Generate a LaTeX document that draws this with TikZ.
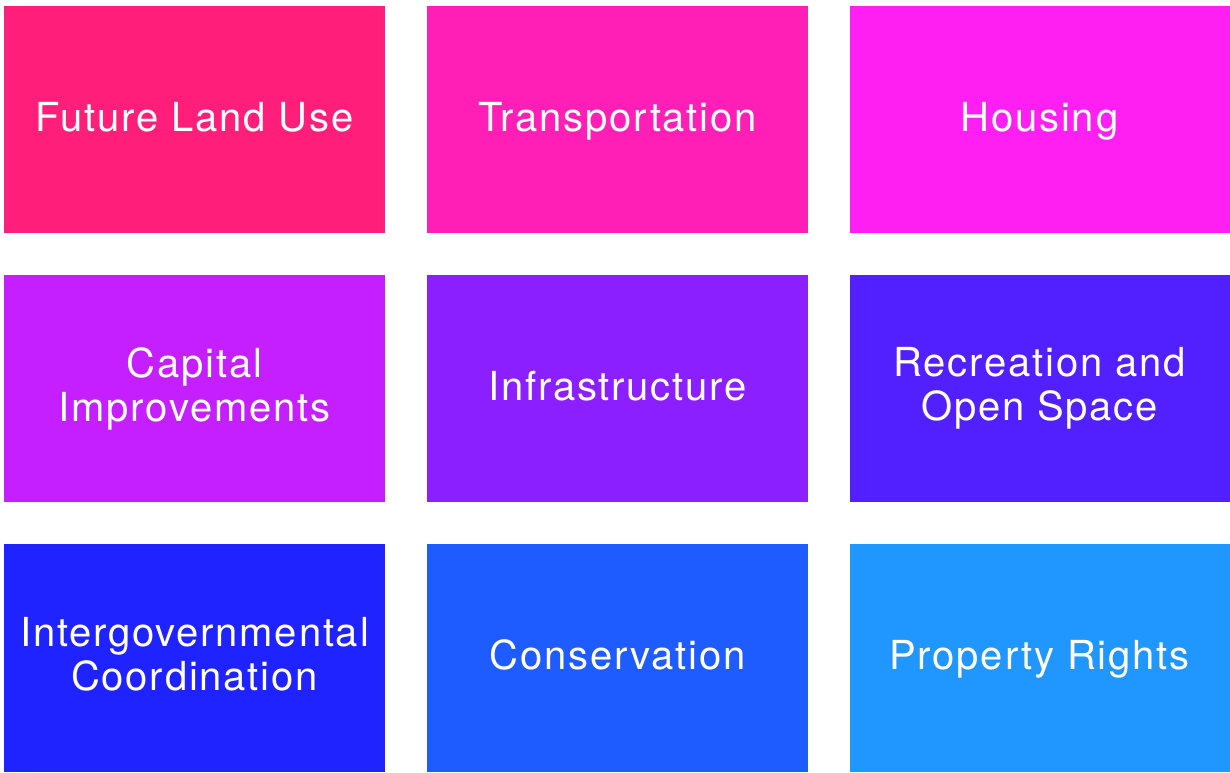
\documentclass[tikz,border=0pt]{standalone}
\usepackage{fontspec}
\setmainfont[LetterSpace=4.5]{TeX Gyre Heros}
\usetikzlibrary{positioning}
\definecolor{landuse}{RGB}{255,31,122}
\definecolor{transport}{RGB}{255,31,182}
\definecolor{housing}{RGB}{255,31,243}
\definecolor{capital}{RGB}{198,31,255}
\definecolor{infra}{RGB}{140,31,255}
\definecolor{recreation}{RGB}{82,31,255}
\definecolor{intergov}{RGB}{31,35,255}
\definecolor{conserv}{RGB}{31,92,255}
\definecolor{property}{RGB}{31,151,255}
\tikzset{
	element/.style={rectangle,inner sep=0,minimum width=381pt,minimum height=227pt,text=white,align=center,font=\fontsize{40}{44}\selectfont},
	oneline/.style={text height=29pt,text depth=6pt},
	lastrow/.style={minimum height=228pt}
}
\begin{document}
\begin{tikzpicture}[x=1pt,y=-1pt]
	\useasboundingbox (0,0) rectangle (1230,772);
	%%% first row
	\node[element,oneline,fill=landuse] (landuse) at (194.5,119.5) {Future Land Use};
	\node[element,oneline,fill=transport] (transport) at (617.5,119.5) {Transportation};
	\node[element,oneline,fill=housing,minimum width=380pt] (housing) at (1039.5,119.5) {Housing};
	%%% second row
	\node[element,fill=capital] (capital) at (194.5,388.5) {Capital\\Improvements};
	\node[element,oneline,fill=infra] (infra) at (617.5,388.5) {Infrastructure};
	\node[element,fill=recreation,minimum width=380pt] (recreation) at (1039.5,388.5) {Recreation and\\Open Space};
	%%% third row
	\node[element,lastrow,fill=intergov] (intergov) at (194.5,658) {Intergovernmental\\Coordination\vphantom{p}};
	\node[element,oneline,lastrow,fill=conserv] (conserv) at (617.5,658) {Conservation};
	\node[element,oneline,lastrow,fill=property,minimum width=380pt] (property) at (1039.5,658) {Property Rights};
\end{tikzpicture}
\end{document}
